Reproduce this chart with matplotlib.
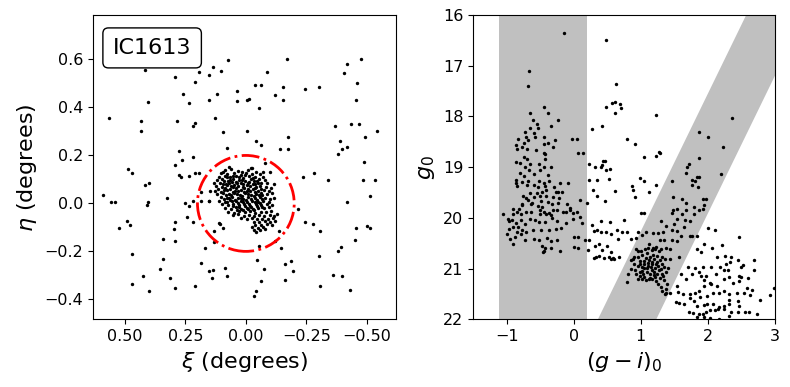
import numpy as np
import matplotlib
matplotlib.use("Agg")
import matplotlib.pyplot as plt
from matplotlib.patches import Circle

# --- tangent-plane positions (xi, eta) in degrees, field stars
field_pts = np.array([
    (0.073, 0.597), (-0.171, 0.604), (-0.478, 0.600), (-0.419, 0.583), (0.416, 0.556),
    (0.135, 0.567), (0.193, 0.546), (0.152, 0.535), (0.102, 0.550), (-0.088, 0.546),
    (-0.406, 0.542), (0.292, 0.525), (0.212, 0.506), (-0.460, 0.500), (-0.039, 0.492),
    (-0.061, 0.492), (-0.152, 0.486), (-0.245, 0.475), (-0.303, 0.486), (0.036, 0.467),
    (0.259, 0.458), (0.118, 0.456), (-0.121, 0.450), (-0.003, 0.433), (-0.014, 0.437),
    (0.152, 0.431), (0.036, 0.425), (-0.154, 0.431), (0.405, 0.421), (0.237, 0.417),
    (-0.457, 0.433), (-0.055, 0.396), (0.565, 0.358), (0.433, 0.342), (0.284, 0.342),
    (0.209, 0.336), (0.220, 0.321), (0.129, 0.358), (-0.369, 0.321), (-0.433, 0.333),
    (-0.468, 0.329), (-0.543, 0.301), (0.433, 0.300), (-0.003, 0.300), (0.096, 0.296),
    (-0.176, 0.275), (-0.493, 0.275), (-0.044, 0.262), (-0.061, 0.242), (-0.388, 0.262),
    (-0.397, 0.225), (-0.380, 0.208), (-0.419, 0.236), (-0.143, 0.225), (-0.175, 0.225),
    (0.077, 0.229), (0.278, 0.219), (0.262, 0.183), (0.220, 0.193), (0.292, 0.162),
    (-0.022, 0.149), (-0.080, 0.167), (-0.490, 0.171), (0.488, 0.143), (0.471, 0.125),
    (0.275, 0.117), (0.267, 0.108), (0.234, 0.114), (0.212, 0.125), (0.193, 0.125),
    (-0.099, 0.129), (-0.237, 0.108), (-0.281, 0.128), (-0.339, 0.096), (-0.485, 0.096),
    (-0.534, 0.096), (0.416, 0.075), (0.402, 0.087), (0.187, 0.049), (0.590, 0.037),
    (0.556, 0.004), (0.540, 0.004), (0.325, 0.021), (0.405, 0.004), (0.408, -0.006),
    (0.251, 0.000), (0.234, -0.012), (0.218, 0.008), (0.185, 0.008), (0.152, 0.008),
    (-0.512, 0.029), (-0.419, 0.004), (-0.215, -0.025), (0.490, -0.075), (0.477, -0.092),
    (0.523, -0.104), (0.292, -0.079), (0.245, -0.058), (0.295, -0.108), (0.218, -0.079),
    (0.110, -0.083), (0.094, -0.104), (-0.245, -0.079), (-0.278, -0.087), (-0.306, -0.117),
    (-0.457, -0.104), (-0.501, -0.096), (-0.515, -0.104), (0.344, -0.150), (0.292, -0.158),
    (0.132, -0.117), (0.132, -0.162), (-0.138, -0.117), (-0.452, -0.154), (0.471, -0.212),
    (0.168, -0.187), (-0.055, -0.179), (-0.146, -0.187), (-0.303, -0.221), (-0.380, -0.200),
    (-0.394, -0.181), (0.342, -0.233), (0.355, -0.275), (0.187, -0.250), (-0.047, -0.237),
    (0.152, -0.283), (0.135, -0.279), (0.085, -0.271), (0.077, -0.301), (-0.074, -0.275),
    (-0.163, -0.254), (-0.185, -0.242), (-0.193, -0.283), (0.424, -0.304), (0.314, -0.312),
    (0.138, -0.312), (0.471, -0.337), (0.399, -0.367), (0.292, -0.354), (0.209, -0.346),
    (-0.061, -0.325), (-0.163, -0.321), (-0.361, -0.300), (-0.397, -0.304), (-0.306, -0.346),
    (-0.430, -0.362), (-0.041, -0.367), (-0.033, -0.387), (0.149, 0.051), (0.153, 0.010),
    (0.107, -0.086), (-0.120, -0.157),
])

# --- IC1613 main body
core_pts = np.array([
    (0.088, 0.138), (0.062, 0.142), (0.034, 0.136), (-0.008, 0.140), (-0.041, 0.133), (0.015, 0.131),
    (0.102, 0.127), (0.076, 0.122), (0.049, 0.128), (0.021, 0.119), (-0.002, 0.126), (-0.027, 0.121),
    (-0.058, 0.124), (0.113, 0.112), (0.088, 0.116), (0.066, 0.108), (0.041, 0.113), (0.013, 0.106),
    (-0.012, 0.114), (-0.036, 0.109), (-0.069, 0.111), (0.121, 0.098), (0.097, 0.102), (0.072, 0.095),
    (0.052, 0.101), (0.028, 0.097), (0.004, 0.093), (-0.021, 0.100), (-0.047, 0.094), (-0.081, 0.098),
    (0.107, 0.087), (0.083, 0.082), (0.058, 0.089), (0.036, 0.084), (0.011, 0.079), (-0.015, 0.088),
    (-0.039, 0.081), (-0.063, 0.086), (-0.088, 0.083), (0.124, 0.073), (0.099, 0.069), (0.076, 0.075),
    (0.053, 0.068), (0.031, 0.072), (0.007, 0.066), (-0.018, 0.071), (-0.042, 0.067), (-0.059, 0.074),
    (-0.084, 0.070), (-0.103, 0.066), (0.114, 0.058), (0.089, 0.054), (0.064, 0.060), (0.044, 0.052),
    (0.019, 0.057), (-0.004, 0.053), (-0.029, 0.059), (-0.052, 0.051), (-0.074, 0.056), (-0.097, 0.053),
    (0.118, 0.041), (0.094, 0.044), (0.071, 0.038), (0.049, 0.043), (0.026, 0.037), (0.003, 0.042),
    (-0.021, 0.036), (-0.044, 0.041), (-0.066, 0.035), (-0.089, 0.039), (-0.109, 0.043), (0.103, 0.027),
    (0.079, 0.022), (0.057, 0.028), (0.033, 0.024), (0.012, 0.019), (-0.011, 0.026), (-0.036, 0.021),
    (-0.058, 0.027), (-0.081, 0.023), (-0.101, 0.018), (0.112, 0.011), (0.087, 0.007), (0.066, 0.013),
    (0.042, 0.008), (0.021, 0.012), (-0.003, 0.006), (-0.027, 0.011), (-0.049, 0.004), (-0.072, 0.010),
    (-0.094, 0.006), (0.097, -0.004), (0.074, -0.008), (0.052, -0.002), (0.029, -0.007), (0.006, -0.003),
    (-0.018, -0.009), (-0.041, -0.004), (-0.063, -0.008), (-0.086, -0.002), (-0.108, -0.006),
    (0.088, -0.019), (0.063, -0.023), (0.041, -0.017), (0.018, -0.022), (-0.005, -0.018), (-0.028, -0.024),
    (-0.052, -0.019), (-0.074, -0.021), (-0.095, -0.016), (0.072, -0.034), (0.048, -0.038), (0.027, -0.032),
    (0.004, -0.037), (-0.017, -0.033), (-0.039, -0.039), (-0.061, -0.034), (-0.083, -0.037), (-0.104, -0.031),
    (0.052, -0.049), (0.031, -0.046), (0.009, -0.052), (-0.012, -0.047), (-0.034, -0.053), (-0.056, -0.048),
    (-0.077, -0.052), (-0.099, -0.047), (-0.117, -0.051), (0.021, -0.061), (-0.003, -0.066), (-0.026, -0.062),
    (-0.047, -0.067), (-0.068, -0.063), (-0.091, -0.066), (-0.112, -0.061), (-0.032, -0.076), (-0.054, -0.079),
    (-0.078, -0.074), (-0.101, -0.078), (-0.122, -0.072), (-0.038, -0.088), (-0.063, -0.091), (-0.086, -0.087),
    (-0.109, -0.092), (-0.024, -0.098), (-0.049, -0.101), (-0.071, -0.097), (-0.034, -0.109), (-0.058, -0.112),
    (-0.079, -0.106), (-0.042, -0.118), (0.131, 0.084), (0.128, 0.052), (-0.115, 0.079), (-0.118, 0.024),
    (0.069, 0.150), (-0.024, 0.146), (-0.127, -0.043), (0.095, 0.132), (-0.072, 0.132),
    # densest part
    (0.078, 0.108), (0.054, 0.114), (0.029, 0.109), (0.004, 0.117), (-0.028, 0.104), (0.091, 0.093),
    (0.064, 0.097), (0.041, 0.091), (0.016, 0.099), (-0.009, 0.084), (-0.033, 0.092), (-0.056, 0.101),
    (0.096, 0.079), (0.071, 0.084), (0.047, 0.077), (0.022, 0.085), (-0.004, 0.076), (-0.028, 0.079),
    (-0.051, 0.083), (0.087, 0.065), (0.063, 0.071), (0.039, 0.063), (0.013, 0.070), (-0.011, 0.062),
    (-0.036, 0.066), (-0.063, 0.062), (0.101, 0.049), (0.077, 0.054), (0.054, 0.046), (0.031, 0.053),
    (0.008, 0.047), (-0.016, 0.051), (-0.039, 0.047), (-0.061, 0.044), (0.084, 0.036), (0.061, 0.033),
    (0.037, 0.040), (0.014, 0.031), (-0.009, 0.038), (-0.032, 0.031), (-0.056, 0.036), (0.092, 0.018),
    (0.068, 0.023), (0.046, 0.016), (0.022, 0.024), (0.001, 0.014), (-0.022, 0.019), (-0.046, 0.015),
    (-0.067, 0.020), (0.079, 0.004), (0.057, 0.009), (0.034, 0.001), (0.011, 0.007), (-0.013, -0.001),
    (-0.036, 0.005), (-0.058, 0.001), (0.052, -0.012), (0.028, -0.015), (0.004, -0.010), (-0.021, -0.014),
    (-0.046, -0.011), (-0.068, -0.013), (0.037, -0.027), (0.013, -0.029), (-0.009, -0.025), (-0.034, -0.029),
])

# --- colour-magnitude diagram: (g-i)_0, g_0
cmd_pts = np.array([
    (-0.15, 16.36), (0.48, 16.50), (-0.67, 17.11), (-0.69, 17.39), (0.63, 17.35),
    (-0.44, 17.82), (-0.66, 17.94), (-0.39, 17.93), (-0.61, 18.06), (-0.24, 18.07),
    (0.62, 17.94), (0.48, 17.81), (0.57, 17.74), (0.61, 17.72), (0.69, 17.76),
    (0.70, 17.84), (1.22, 17.98), (2.36, 18.02),
    (-0.55, 18.14), (-0.65, 18.22), (-0.54, 18.22), (-0.34, 18.19), (-0.73, 18.31),
    (-0.60, 18.32), (0.42, 18.19), (0.27, 18.25), (-0.72, 18.40), (-0.45, 18.41),
    (-0.58, 18.41), (1.86, 18.31),
    (-0.83, 18.44), (-0.75, 18.52), (-0.69, 18.47), (-0.02, 18.44), (0.05, 18.44),
    (-0.28, 18.47), (-0.39, 18.52), (0.79, 18.45), (0.91, 18.55), (2.00, 18.41),
    (2.22, 18.61), (-0.86, 18.57), (-0.77, 18.60), (-0.44, 18.55),
    (-0.85, 18.65), (-0.70, 18.65), (-0.31, 18.60), (-0.57, 18.66), (-0.45, 18.73),
    (-0.43, 18.74), (0.06, 18.73), (0.13, 18.72), (-0.74, 18.80), (-0.70, 18.83),
    (1.05, 18.80), (1.23, 18.78), (1.28, 18.73), (1.27, 18.70), (1.86, 18.81),
    (-0.86, 18.89), (-0.80, 18.91), (-0.65, 18.93), (-0.43, 18.83), (1.72, 18.93),
    (-0.73, 18.99),
    (0.23, 18.93), (0.31, 18.99), (0.40, 18.99), (0.44, 18.88), (0.47, 18.88),
    (-0.52, 18.94), (-0.45, 18.99), (-0.34, 18.99), (0.42, 18.95), (0.48, 19.05),
    (0.54, 19.03), (1.69, 18.99), (-0.67, 19.05), (-0.80, 19.11), (-0.60, 19.13),
    (-0.75, 19.18), (-0.38, 19.16), (1.67, 19.11), (1.84, 19.19), (2.20, 19.14),
    (-0.50, 19.05),
    (-0.86, 19.26), (-0.77, 19.30), (-0.69, 19.27), (-0.52, 19.28), (-0.45, 19.31),
    (-0.37, 19.27), (-0.70, 19.35), (-0.60, 19.35), (-0.54, 19.40), (-0.43, 19.38),
    (-0.30, 19.39), (-0.20, 19.32), (-0.09, 19.32), (0.23, 19.26), (0.35, 19.26),
    (0.52, 19.24), (0.99, 19.22), (1.05, 19.28), (1.46, 19.28), (1.76, 19.26),
    (1.81, 19.27), (1.87, 19.19), (-0.84, 19.38), (-0.86, 19.32), (-0.27, 19.49),
    (-0.47, 19.49), (-0.42, 19.45), (-0.23, 19.49), (-0.17, 19.49), (0.29, 19.45),
    (0.61, 19.46), (0.87, 19.38), (0.89, 19.45), (1.12, 19.49), (1.23, 19.36),
    (1.76, 19.36), (1.85, 19.39),
    (-0.65, 19.51), (-0.55, 19.51), (-0.76, 19.56), (-0.71, 19.60), (-0.60, 19.59),
    (-0.50, 19.56), (-0.41, 19.56), (-0.31, 19.59), (-0.22, 19.60), (0.09, 19.64),
    (0.19, 19.70), (0.35, 19.56), (0.46, 19.66), (0.91, 19.59), (1.48, 19.59),
    (1.61, 19.63), (1.67, 19.70), (1.93, 19.62), (1.97, 19.63), (-0.69, 19.65),
    (-0.63, 19.70), (-0.49, 19.66), (-0.39, 19.68), (-0.77, 19.72), (-0.64, 19.73),
    (-0.54, 19.77), (-0.47, 19.78), (-0.32, 19.72), (-0.23, 19.70), (-0.10, 19.72),
    (-0.06, 19.81),
    (-0.90, 19.82), (-0.82, 19.82), (-0.77, 19.75), (-0.91, 19.93), (-0.85, 19.89),
    (-0.78, 19.93), (-0.72, 19.88), (-0.64, 19.88), (-0.50, 19.85), (-0.45, 19.88),
    (-0.37, 19.90), (-0.31, 19.84), (-0.25, 19.84), (-0.16, 19.88), (-0.12, 19.88),
    (-0.05, 19.85), (-0.01, 19.91), (-1.06, 19.93), (-0.98, 20.03), (-0.92, 20.05),
    (-0.50, 19.93), (-0.41, 19.93), (-0.34, 19.94), (0.05, 19.89), (1.00, 19.90),
    (1.05, 19.90), (1.48, 19.84), (1.54, 19.82), (1.68, 19.85), (1.79, 19.78),
    (1.87, 19.85), (1.94, 19.74), (1.92, 19.82), (1.46, 19.91), (1.62, 19.93),
    (-0.96, 20.07), (-0.86, 20.10), (-0.79, 20.05), (-0.73, 20.13), (-0.66, 20.03),
    (-0.58, 20.05), (-0.52, 20.09), (-0.43, 20.09), (-0.33, 20.01), (-0.25, 20.06),
    (-0.11, 20.10), (-0.01, 20.03), (0.09, 19.98), (0.12, 20.10), (0.27, 20.14),
    (0.41, 20.07), (0.54, 20.09), (0.75, 20.05), (1.30, 20.07), (1.54, 20.02),
    (1.66, 20.05), (1.74, 20.07), (1.49, 20.13), (1.38, 20.16), (1.64, 20.18),
    (1.79, 19.93), (2.00, 20.19), (2.10, 20.23), (-0.91, 20.18), (-0.83, 20.18),
    (-0.77, 20.24), (-0.96, 20.22), (-0.85, 20.27), (-0.72, 20.27), (-0.61, 20.23),
    (-0.49, 20.24), (-0.37, 20.24), (-0.26, 20.22), (-0.19, 20.19),
    (0.30, 20.26), (0.34, 20.24), (0.40, 20.27), (0.48, 20.27), (0.55, 20.31),
    (0.64, 20.24), (0.72, 20.27), (0.80, 20.28), (0.95, 20.27), (1.07, 20.27),
    (1.18, 20.30), (1.26, 20.30), (1.33, 20.27), (1.46, 20.24), (1.60, 20.35),
    (1.54, 20.26), (1.74, 20.36), (-0.99, 20.31), (-0.95, 20.41), (-0.88, 20.38),
    (-0.79, 20.31), (-0.73, 20.43), (-0.59, 20.41), (-0.52, 20.44), (-0.40, 20.40),
    (-0.34, 20.45), (-0.25, 20.43), (0.00, 20.38), (0.07, 20.38), (0.16, 20.43),
    (0.23, 20.43), (0.66, 20.41), (0.85, 20.41), (0.93, 20.40), (1.01, 20.34),
    (1.28, 20.43), (1.35, 20.44), (1.47, 20.44), (1.54, 20.45), (1.76, 20.36),
    (1.84, 20.36), (1.94, 20.51), (2.46, 20.38), (-0.90, 20.51),
    (-0.47, 20.55), (-0.43, 20.59), (-0.34, 20.60), (-0.20, 20.65), (-0.45, 20.65),
    (-0.46, 20.68), (0.00, 20.57), (0.06, 20.59), (0.21, 20.64), (0.31, 20.56),
    (0.38, 20.51), (0.42, 20.64), (0.49, 20.56), (0.55, 20.68), (0.33, 20.77),
    (0.38, 20.76), (0.45, 20.80), (0.52, 20.78), (0.59, 20.80), (0.68, 20.77),
    (0.92, 20.61), (1.12, 20.51), (1.18, 20.59), (1.23, 20.57), (1.30, 20.61),
    (1.37, 20.59), (1.44, 20.61), (1.57, 20.78), (1.83, 20.61), (1.90, 20.68),
    (2.06, 20.60), (2.21, 20.53), (2.14, 20.77), (2.25, 20.76), (2.35, 20.77),
    (2.45, 20.84), (2.69, 20.84),
    (0.30, 20.80), (0.55, 20.81), (0.60, 20.82), (1.71, 20.97), (1.81, 20.98),
    (1.93, 20.97), (2.04, 20.97), (2.18, 20.97), (2.27, 20.91), (2.33, 20.88),
    (2.49, 20.97), (2.52, 20.93), (1.60, 21.11), (1.76, 21.10), (1.86, 21.07),
    (1.97, 21.14), (2.12, 21.10), (2.24, 21.03), (2.30, 21.03), (2.46, 21.15),
    (2.49, 21.16), (2.60, 21.18), (2.69, 21.02),
    (0.79, 21.26), (0.95, 21.20), (1.68, 21.20), (1.89, 21.15), (1.94, 21.23),
    (2.03, 21.28), (2.13, 21.35), (2.24, 21.20), (2.31, 21.16), (2.38, 21.28),
    (2.46, 21.24), (2.59, 21.38), (2.65, 21.43), (2.98, 21.38), (1.54, 21.34),
    (1.44, 21.48), (1.38, 21.40), (1.36, 21.51),
    (1.55, 21.47), (1.63, 21.51), (1.74, 21.51), (1.80, 21.48), (1.86, 21.44),
    (1.94, 21.35), (2.04, 21.30), (1.73, 21.59), (1.79, 21.64), (1.88, 21.57),
    (1.99, 21.55), (2.08, 21.48), (2.17, 21.49), (2.24, 21.45), (2.32, 21.51),
    (2.44, 21.49), (2.54, 21.49), (2.62, 21.53), (2.32, 21.61), (2.45, 21.64),
    (1.52, 21.65), (1.57, 21.68), (1.64, 21.69), (1.83, 21.74), (1.94, 21.72),
    (1.99, 21.69), (2.08, 21.69), (2.17, 21.76), (2.24, 21.73), (2.31, 21.69),
    (2.46, 21.74), (2.78, 21.61), (2.92, 21.53),
    (1.72, 21.86), (1.78, 21.88), (1.86, 21.90), (1.92, 21.90), (1.97, 21.86),
    (2.03, 21.82), (2.10, 21.82), (2.15, 21.80), (2.24, 21.80), (2.34, 21.85),
    (2.45, 21.85), (2.56, 21.86), (2.61, 21.85), (2.73, 21.90), (1.84, 21.95),
    (1.94, 21.95), (2.03, 21.97), (2.16, 21.99), (2.31, 21.93),
    # red clump
    (0.90, 20.77), (0.95, 20.78), (1.02, 20.74), (1.09, 20.70), (1.16, 20.64),
    (1.21, 20.61), (1.27, 20.66), (1.32, 20.77), (1.36, 20.82), (1.44, 20.82),
    (0.99, 20.85), (1.05, 20.85), (1.12, 20.84), (1.16, 20.88), (1.20, 20.82),
    (1.24, 20.88), (1.28, 20.84), (1.32, 20.91), (1.35, 20.97), (1.41, 20.99),
    (0.90, 20.90), (0.96, 20.94), (1.01, 20.97), (1.05, 20.98), (1.10, 20.94),
    (1.15, 20.97), (1.21, 20.98), (1.26, 20.94), (1.30, 21.01), (0.85, 21.01),
    (0.91, 21.03), (0.98, 21.06), (1.02, 21.05), (1.09, 21.06), (1.16, 21.03),
    (1.20, 21.07), (1.24, 21.10), (1.31, 21.10), (1.37, 21.06), (0.81, 21.10),
    (0.99, 21.14), (1.05, 21.16), (1.12, 21.20), (1.17, 21.20), (1.21, 21.16),
    (1.28, 21.19), (1.34, 21.23), (1.39, 21.30), (1.02, 21.20), (1.08, 21.22),
    (1.14, 21.19), (1.22, 21.24), (1.26, 21.31), (1.30, 21.36), (1.32, 21.44),
    (1.37, 21.49), (1.07, 20.80), (1.13, 20.77), (1.18, 20.74), (1.24, 20.76),
    (1.00, 20.66), (0.95, 20.66), (1.06, 20.61), (1.11, 20.59), (0.85, 20.84),
    (0.88, 20.81), (0.93, 21.11), (1.23, 20.90), (1.17, 20.91), (1.11, 20.89),
    (1.04, 20.91), (0.99, 20.90), (1.09, 20.99), (1.03, 21.10), (1.13, 21.11),
    (1.19, 21.13), (1.27, 21.03), (1.33, 21.14),
])

# selection boxes in the CMD
blue_box = (-1.12, 0.19)
rgb_box_col = [0.36, 2.57, 3.44, 1.23]
rgb_box_mag = [22.0, 16.0, 16.0, 22.0]

fig = plt.figure(figsize=(7.9, 3.87), dpi=100)
ax1 = fig.add_axes([0.118, 0.175, 0.383, 0.786])
ax2 = fig.add_axes([0.599, 0.175, 0.382, 0.786])

# left: spatial map
ax1.scatter(field_pts[:, 0], field_pts[:, 1], s=6, c='k', lw=0)
ax1.scatter(core_pts[:, 0], core_pts[:, 1], s=6, c='k', lw=0)
ax1.add_patch(Circle((0, 0), 0.2, fill=False, ec='red', ls='-.', lw=2))
ax1.set_xlim(0.631, -0.620)
ax1.set_ylim(-0.483, 0.785)
ax1.set_xticks([0.5, 0.25, 0.0, -0.25, -0.5])
ax1.set_yticks([-0.4, -0.2, 0.0, 0.2, 0.4, 0.6])
ax1.set_xlabel(r'$\xi$ (degrees)', fontsize=16)
ax1.set_ylabel(r'$\eta$ (degrees)', fontsize=16)
ax1.tick_params(labelsize=11.5)
ax1.text(0.065, 0.925, 'IC1613', transform=ax1.transAxes, fontsize=16,
         va='top', ha='left',
         bbox=dict(boxstyle='round,pad=0.45,rounding_size=0.25', fc='white', ec='black'))

# right: CMD
ax2.axvspan(blue_box[0], blue_box[1], color='silver', lw=0, zorder=0)
ax2.fill(rgb_box_col, rgb_box_mag, color='silver', lw=0, zorder=0)
ax2.scatter(cmd_pts[:, 0], cmd_pts[:, 1], s=6, c='k', lw=0, zorder=2)
ax2.set_xlim(-1.5, 3)
ax2.set_ylim(22, 16)
ax2.set_xticks([-1, 0, 1, 2, 3])
ax2.set_yticks([16, 17, 18, 19, 20, 21, 22])
ax2.set_xlabel(r'$(g-i)_0$', fontsize=16)
ax2.set_ylabel(r'$g_0$', fontsize=16)
ax2.tick_params(labelsize=11.5)

fig.savefig('out.png', dpi=100)
